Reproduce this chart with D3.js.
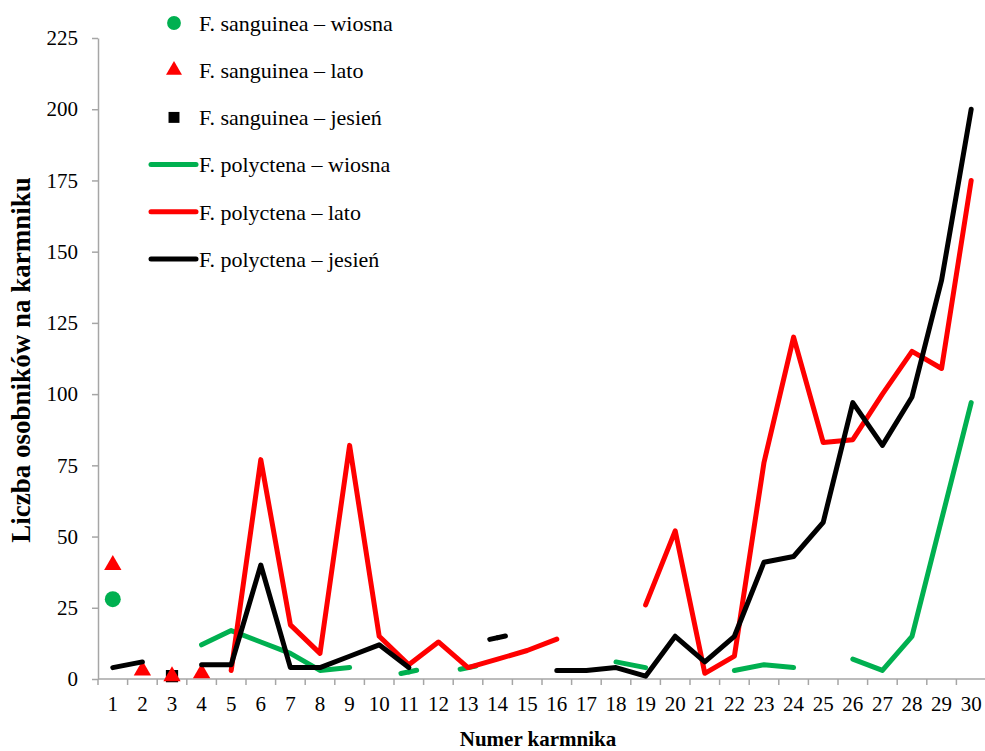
<!DOCTYPE html>
<html>
<head>
<meta charset="utf-8">
<script src="https://cdn.jsdelivr.net/npm/d3@7/dist/d3.min.js"></script>
<style>
  body { margin: 0; background: #fff; }
  svg text { font-family: 'Liberation Serif', 'DejaVu Serif', serif !important; }
</style>
</head>
<body>
<svg id="chart" width="985" height="751"></svg>
<script>
// Numery karmników (oś X)
const karmniki = ["1","2","3","4","5","6","7","8","9","10",
                  "11","12","13","14","15","16","17","18","19","20",
                  "21","22","23","24","25","26","27","28","29","30"];
const yTicks = [0, 25, 50, 75, 100, 125, 150, 175, 200, 225];

const N = null;
// Formica sanguinea – pojedyncze obserwacje (znaczniki)
const sanguineaWiosna = [28,N,N,N,N,N,N,N,N,N, N,N,N,N,N,N,N,N,N,N, N,N,N,N,N,N,N,N,N,N];
const sanguineaLato   = [40,3,1,2,N,N,N,N,N,N, N,N,N,N,N,N,N,N,N,N, N,N,N,N,N,N,N,N,N,N];
const sanguineaJesien = [N,N,1,N,N,N,N,N,N,N, N,N,N,N,N,N,N,N,N,N, N,N,N,N,N,N,N,N,N,N];
// Formica polyctena – liczebność w kolejnych porach roku (linie)
const polyctenaWiosna = [N,N,N,12,17,13,9,3,4,N, 2.5,N,4,N,N,N,N,6,4,N, N,3,5,4,N,7,3,15,56,97];
const polyctenaLato   = [N,N,N,N,3,77,19,9,82,15, 5,13,4,7,10,14,N,N,26,52, 2,8,76,120,83,84,100,115,109,175];
const polyctenaJesien = [4,6,N,5,5,40,4,4,8,12, 4,N,N,14.5,N,3,3,4,1,15, 6,15,41,43,55,97,82,99,140,200];

const GREEN = "#00b050", RED = "#ff0000", BLACK = "#000000", AXIS = "#a6a6a6";

const svg = d3.select("#chart");
const plot = { left: 98, right: 986, top: 38, bottom: 679 };

const x = d3.scaleBand().domain(karmniki).range([plot.left, plot.right]).paddingInner(0).paddingOuter(0);
const cx = k => x(k) + x.bandwidth() / 2;
const y = d3.scaleLinear().domain([0, 225]).range([plot.bottom, plot.top]);

// Oś Y
const yAxis = svg.append("g")
  .attr("transform", `translate(${plot.left},0)`)
  .call(d3.axisLeft(y).tickValues(yTicks).tickSize(6).tickSizeOuter(0).tickPadding(14));
yAxis.select(".domain").attr("stroke", AXIS).attr("stroke-width", 1.5);
yAxis.selectAll(".tick line").attr("stroke", AXIS).attr("stroke-width", 1.5);
yAxis.selectAll(".tick text").attr("font-size", 21).attr("fill", "#000");

// Oś X – etykiety pod środkiem kategorii, kreski między kategoriami
const xAxis = svg.append("g")
  .attr("transform", `translate(0,${plot.bottom})`)
  .call(d3.axisBottom(x).tickSize(0).tickPadding(17));
xAxis.select(".domain").remove();
xAxis.selectAll(".tick text").attr("font-size", 21).attr("fill", "#000");
svg.append("line")
  .attr("x1", plot.left).attr("x2", plot.right)
  .attr("y1", plot.bottom).attr("y2", plot.bottom)
  .attr("stroke", AXIS).attr("stroke-width", 1.5);
const boundaries = karmniki.map(k => x(k)).concat([x(karmniki[karmniki.length - 1]) + x.bandwidth()]);
svg.append("g").selectAll("line").data(boundaries).join("line")
  .attr("x1", d => d).attr("x2", d => d)
  .attr("y1", plot.bottom).attr("y2", plot.bottom + 6)
  .attr("stroke", AXIS).attr("stroke-width", 1.5);

// Tytuły osi
svg.append("text")
  .attr("x", 538).attr("y", 746)
  .attr("text-anchor", "middle").attr("font-weight", "bold").attr("font-size", 21)
  .text("Numer karmnika");
svg.append("text")
  .attr("transform", "translate(30,360) rotate(-90)")
  .attr("text-anchor", "middle").attr("font-weight", "bold").attr("font-size", 27)
  .text("Liczba osobników na karmniku");

// Znaczniki F. sanguinea
const symSquare = d3.symbol().type(d3.symbolSquare).size(150);
const symTri = d3.symbol().type(d3.symbolTriangle).size(130);
const symCircle = d3.symbol().type(d3.symbolCircle).size(200);

function markers(values, sym, color) {
  const pts = values.map((v, i) => ({ k: karmniki[i], v })).filter(d => d.v != null);
  svg.append("g").selectAll("path").data(pts).join("path")
    .attr("d", sym)
    .attr("transform", d => `translate(${cx(d.k)},${y(d.v)})`)
    .attr("fill", color);
}
markers(sanguineaJesien, symSquare, BLACK);
markers(sanguineaLato, symTri, RED);
markers(sanguineaWiosna, symCircle, GREEN);

// Linie F. polyctena (przerwy tam, gdzie brak danych)
function series(values, color) {
  const pts = values.map((v, i) => ({ k: karmniki[i], v }));
  const line = d3.line().defined(d => d.v != null).x(d => cx(d.k)).y(d => y(d.v));
  const g = svg.append("g");
  g.append("path").datum(pts)
    .attr("d", line)
    .attr("fill", "none").attr("stroke", color).attr("stroke-width", 5)
    .attr("stroke-linejoin", "round").attr("stroke-linecap", "round");
  // pojedyncze, odizolowane punkty rysowane jako krótka kreska
  const lone = pts.filter((d, i) => d.v != null &&
    (i === 0 || pts[i - 1].v == null) && (i === pts.length - 1 || pts[i + 1].v == null));
  g.selectAll("line.lone").data(lone).join("line")
    .attr("class", "lone")
    .attr("transform", d => `translate(${cx(d.k)},${y(d.v)}) rotate(-12)`)
    .attr("x1", -8).attr("x2", 8).attr("y1", 0).attr("y2", 0)
    .attr("stroke", color).attr("stroke-width", 5).attr("stroke-linecap", "round");
}
series(polyctenaWiosna, GREEN);
series(polyctenaLato, RED);
series(polyctenaJesien, BLACK);

// Legenda
const legend = [
  { label: "F. sanguinea – wiosna", kind: "marker", sym: d3.symbol().type(d3.symbolCircle).size(150), color: GREEN },
  { label: "F. sanguinea – lato", kind: "marker", sym: d3.symbol().type(d3.symbolTriangle).size(110), color: RED },
  { label: "F. sanguinea – jesień", kind: "marker", sym: d3.symbol().type(d3.symbolSquare).size(120), color: BLACK },
  { label: "F. polyctena – wiosna", kind: "line", color: GREEN },
  { label: "F. polyctena – lato", kind: "line", color: RED },
  { label: "F. polyctena – jesień", kind: "line", color: BLACK }
];
const lg = svg.append("g").selectAll("g").data(legend).join("g")
  .attr("transform", (d, i) => `translate(0,${23 + i * 47.2})`);
lg.filter(d => d.kind === "marker").append("path")
  .attr("d", d => d.sym()).attr("transform", "translate(174,0)").attr("fill", d => d.color);
lg.filter(d => d.kind === "line").append("line")
  .attr("x1", 151).attr("x2", 196).attr("y1", 0).attr("y2", 0)
  .attr("stroke", d => d.color).attr("stroke-width", 5).attr("stroke-linecap", "round");
lg.append("text")
  .attr("x", 199).attr("y", 0).attr("dy", "0.35em")
  .attr("font-size", 22).attr("fill", "#000")
  .text(d => d.label);
</script>
</body>
</html>
